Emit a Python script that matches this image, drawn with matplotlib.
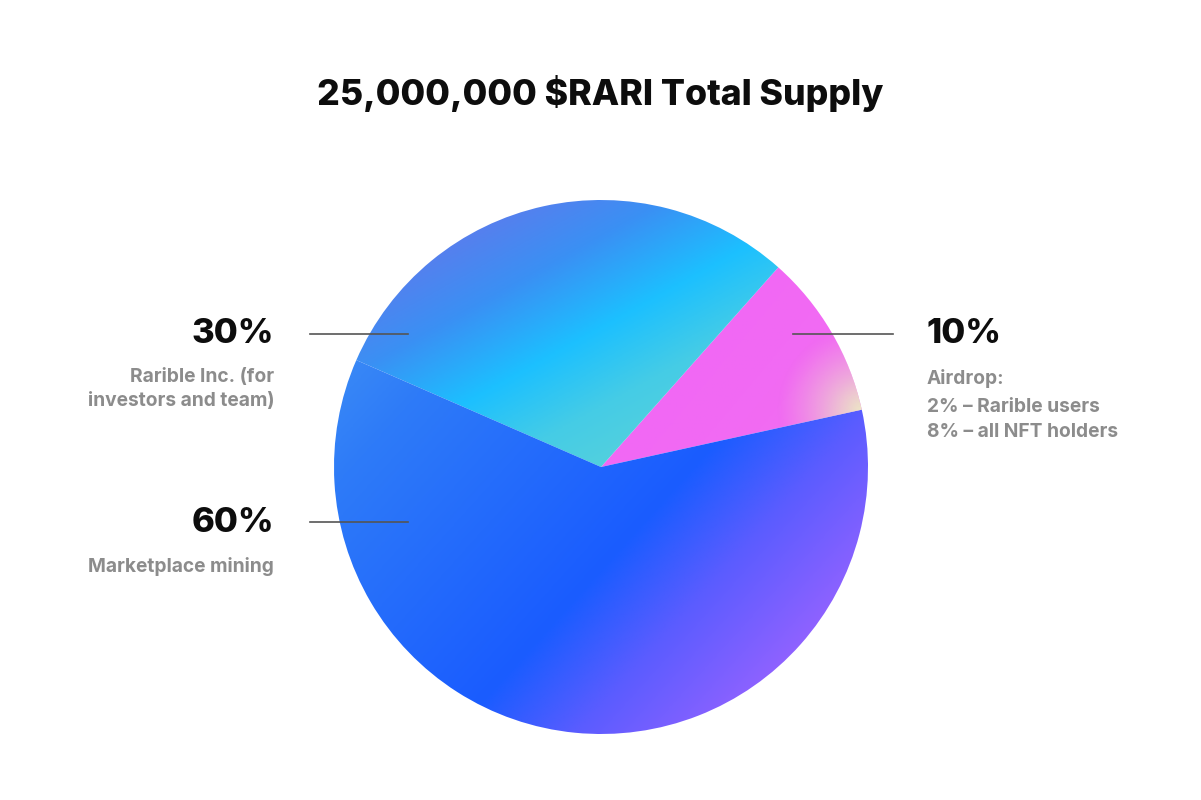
import numpy as np
import matplotlib
matplotlib.use('Agg')
from matplotlib import pyplot as plt
from matplotlib.colors import LinearSegmentedColormap

title = '25,000,000 $RARI Total Supply'
shares = [10, 30, 60]
pct_labels = ['10%', '30%', '60%']
descriptions = [
  ['Airdrop:', '2% \u2013 Rarible users', '8% \u2013 all NFT holders'],
  ['Rarible Inc. (for', 'investors and team)'],
  ['Marketplace mining'],
]

# gradient per slice: direction angle (deg) and (position, colour) stops
gradients = [
  (-40, [(0, '#c667f1'), (0.35, '#f166f6'), (0.75, '#f16cf2'), (1, '#f0a8d8')]),
  (-61, [(0, '#5580ee'), (0.12, '#3a90f4'), (0.27, '#1cc0ff'), (0.4, '#45cce6'),
         (0.5, '#52d0de'), (1, '#52d0de')]),
  (-42, [(0, '#3a8af6'), (0.15, '#2e7bf8'), (0.63, '#1a5cff'), (0.8, '#5a5cff'),
         (1, '#8e62ff')]),
]

W, H = 1201, 800
fig = plt.figure(figsize=(W / 100, H / 100), dpi=100)
ax = fig.add_axes([0, 0, 1, 1])

cx, cy, r = 601, 800 - 467, 267
wedges, _ = ax.pie(shares, startangle=12.4, counterclock=True, center=(cx, cy),
                   radius=r, wedgeprops=dict(linewidth=0), frame=True)
ax.set_aspect('equal')
ax.axis('off')

xs = np.linspace(cx - r, cx + r, 400)
ys = np.linspace(cy - r, cy + r, 400)
X, Y = np.meshgrid(xs, ys)
ext = (cx - r, cx + r, cy - r, cy + r)

for w, (ang, stops) in zip(wedges, gradients):
  a = np.deg2rad(ang)
  t = (X - cx) * np.cos(a) + (Y - cy) * np.sin(a)
  t = (t + r) / (2 * r)
  cmap = LinearSegmentedColormap.from_list('g', stops)
  w.set_facecolor('none')
  im = ax.imshow(t, cmap=cmap, vmin=0, vmax=1, extent=ext, origin='lower',
                 interpolation='bilinear', zorder=1)
  im.set_clip_path(w)

# pink slice: warm beige glow at the outer lower corner
a0 = np.deg2rad(12.4)
px, py = cx + r * np.cos(a0), cy + r * np.sin(a0)
d = np.hypot(X - px, Y - py)
rgba = np.zeros(X.shape + (4,))
rgba[..., :3] = matplotlib.colors.to_rgb('#ece6c6')
rgba[..., 3] = np.clip(1 - d / 85, 0, 1) ** 1.3
im = ax.imshow(rgba, extent=ext, origin='lower', zorder=2)
im.set_clip_path(wedges[0])

ax.set_xlim(0, W)
ax.set_ylim(0, H)

fam = ['Inter', 'DejaVu Sans']
ax.text(600, 800 - 93, title, ha='center', va='center', fontsize=25.7, fontweight='heavy',
        family=fam, color='#0d0d0d')

line_c = '#555555'
ax.plot([793, 893], [800 - 334, 800 - 334], color=line_c, lw=1.2, zorder=5)
ax.plot([310, 408], [800 - 334, 800 - 334], color=line_c, lw=1.2, zorder=5)
ax.plot([310, 408], [800 - 522, 800 - 522], color=line_c, lw=1.2, zorder=5)

gray = '#8c8c8c'
sub = 13.8
# right label (10%)
ax.text(926, 800 - 334, pct_labels[0], ha='left', va='center', fontsize=25, fontweight='heavy',
        family=fam, color='#0d0d0d')
for i, s in enumerate(descriptions[0]):
  yy = [378, 407, 432][i]
  ax.text(927, 800 - yy, s, ha='left', va='center', fontsize=sub, fontweight='bold',
          family=fam, color=gray)

# left labels
ax.text(274, 800 - 334, pct_labels[1], ha='right', va='center', fontsize=25, fontweight='heavy',
        family=fam, color='#0d0d0d')
for i, s in enumerate(descriptions[1]):
  ax.text(274, 800 - (377 + 24 * i), s, ha='right', va='center', fontsize=sub,
          fontweight='bold', family=fam, color=gray)

ax.text(274, 800 - 523, pct_labels[2], ha='right', va='center', fontsize=25, fontweight='heavy',
        family=fam, color='#0d0d0d')
ax.text(274, 800 - 567, descriptions[2][0], ha='right', va='center', fontsize=sub,
        fontweight='bold', family=fam, color=gray)

fig.savefig('out.png', dpi=100)
